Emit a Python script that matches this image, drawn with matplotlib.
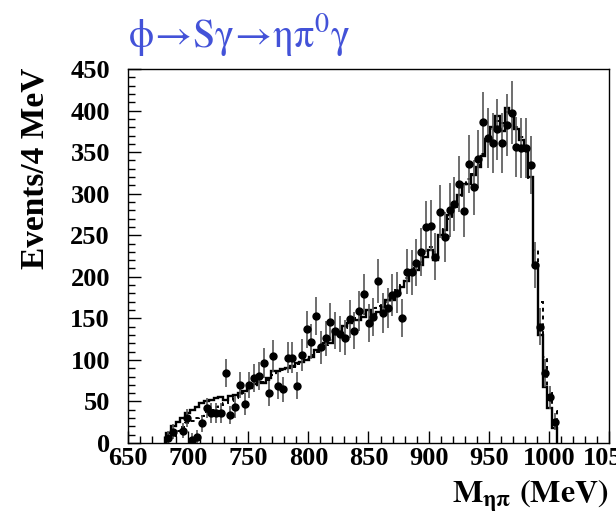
import numpy as np
import matplotlib
matplotlib.use('Agg')
import matplotlib.pyplot as plt

plt.rcParams['font.family'] = ['Liberation Serif', 'DejaVu Serif']
plt.rcParams['mathtext.fontset'] = 'stix'

# binning (first bin edge and width, MeV)
bin_lo = 681.6
bin_w = 3.965
n_bins = 82

# data points (events / bin) and their errors
data_counts = [6.4, 13.6, np.nan, 14.8, 29.7, 3.6, 7.7, 23.7, 41.7, 35.7, 35.7, 35.7,
               84.6, 33.7, 43.7, 69.8, 46.9, 69.8, 78.6, 81, 96.7, 59.8,
               104.7, 69, 64.6, 102.7, 102.7, 69, 105.9, 136.8, 121.9, 152.8,
               115.1, 126, 146, 135.2, 131.2, 126.7, 148.8, 135.2, 159.2, 178.9,
               144, 152, 195, 156, 162, 178, 181, 150.8, 206, 205.3,
               217, 230, 260.3, 261.6, 224.2, 278.4, 248.3, 280.4, 287.6, 311.7,
               279.6, 335.7, 307.6, 341.8, 385.9, 366.6, 360.6, 377.5, 360.6, 382.7,
               397.5, 355.8, 354.6, 354.6, 334.5, 214.2, 140, 84.6, 55, 25.6]
data_errors = [8, 9, np.nan, 9, 11, 8, 8, 10, 12, 12, 12, 12,
               17, 11, 13, 16, 13, 16, 17, 17, 18, 15,
               19, 16, 15, 19, 19, 16, 19, 22, 21, 23,
               20, 21, 23, 22, 22, 21, 23, 22, 24, 25,
               23, 23, 26, 24, 24, 25, 25, 23, 27, 27,
               28, 29, 31, 31, 28, 32, 30, 32, 32, 34,
               32, 35, 33, 35, 37, 36, 36, 37, 36, 37,
               38, 36, 36, 36, 35, 28, 22, 17, 14, 10]

# fit histogram (solid) and alternative fit (dotted)
fit_solid = [12, 20, 25, 30, 36, 40, 43, 48, 50, 52,
             54, 55, 52, 56, 58, 60, 63, 66, 71, 74,
             72, 78, 87, 87, 89, 90, 93, 96, 98, 100,
             104, 112, 116, 120, 120, 136, 131, 141, 145, 148,
             148, 152, 160, 155, 158, 164, 172, 172, 180, 188,
             195, 204, 208, 214, 224, 232, 220, 250, 256, 274,
             286, 298, 312, 312, 322, 332, 345, 363, 380, 393,
             375, 403, 397, 378, 365, 355, 320, 214, 130, 68,
             42, 18]
fit_dotted = [5, 9, 14, 19, 24, 27, 30, 33, 37, 40,
              43, 46, 48, 50, 54, 57, 60, 64, 68, 72,
              73, 76, 82, 85, 88, 90, 92, 95, 98, 101,
              106, 110, 115, 118, 124, 132, 133, 138, 146, 150,
              150, 155, 158, 162, 165, 168, 170, 176, 184, 190,
              198, 202, 210, 218, 228, 236, 230, 246, 258, 270,
              284, 296, 308, 318, 324, 335, 348, 366, 378, 388,
              385, 398, 395, 380, 368, 352, 318, 232, 170, 104,
              60, 38]

x_ticks = [650, 700, 750, 800, 850, 900, 950, 1000, 1050]
y_ticks = [0, 50, 100, 150, 200, 250, 300, 350, 400, 450]

edges = bin_lo + bin_w * np.arange(n_bins + 1)
centers = edges[:-1] + bin_w / 2

fig = plt.figure(figsize=(6.16, 5.14), dpi=100)
ax = fig.add_axes([0.2078, 0.1381, 0.7808, 0.7276])

ax.stairs(fit_dotted, edges, color='black', lw=1.4, linestyle=(0, (2, 2)))
ax.stairs(fit_solid, edges, color='black', lw=1.7)
ax.errorbar(centers, data_counts, yerr=data_errors, fmt='o', color='black',
            ms=5, ecolor='#555555', elinewidth=1.2, capsize=0)

ax.set_xlim(650, 1050)
ax.set_ylim(0, 450)
ax.set_xticks(x_ticks)
ax.set_yticks(y_ticks)
ax.set_xticks(np.arange(650, 1051, 10), minor=True)
ax.set_yticks(np.arange(0, 451, 10), minor=True)
ax.tick_params(which='major', direction='in', length=9, width=1, labelsize=19)
ax.tick_params(axis='x', which='major', pad=3)
ax.tick_params(axis='y', which='major', pad=13)
ax.tick_params(which='minor', direction='in', length=5, width=1)
for lab in ax.get_xticklabels() + ax.get_yticklabels():
    lab.set_fontweight('bold')
for sp in ax.spines.values():
    sp.set_linewidth(1.0)

ax.set_ylabel('Events/4 MeV', fontsize=24, fontweight='bold')
ax.yaxis.set_label_coords(-0.162, 0.735)
fig.text(0.987, 0.02, r'$\mathbf{M_{\eta\pi}\ (MeV)}$', fontsize=23,
         ha='right', va='baseline')
fig.text(0.208, 0.907, r'$\mathrm{\phi\!\rightarrow\! S\gamma\!\rightarrow\!\eta\pi^0\gamma}$',
         fontsize=29, color='#4352d8', ha='left', va='baseline')

fig.savefig('out.png', dpi=100)
